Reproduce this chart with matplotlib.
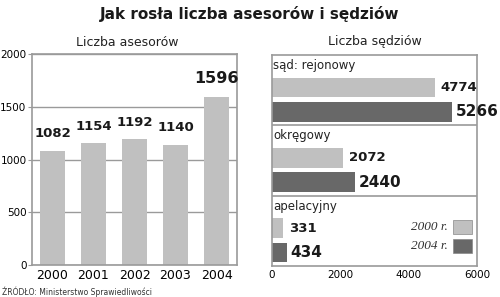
import matplotlib.pyplot as plt

# Liczba asesorów
years = ["2000", "2001", "2002", "2003", "2004"]
asesorzy = [1082, 1154, 1192, 1140, 1596]

# Liczba sędziów
sady = ["sąd: rejonowy", "okręgowy", "apelacyjny"]
sedziowie_2000 = [4774, 2072, 331]
sedziowie_2004 = [5266, 2440, 434]
legend_labels = ["2000 r.", "2004 r."]

light = "#c0c0c0"
dark = "#686868"
frame = "#9a9a9a"
W, H = 500, 297

fig = plt.figure(figsize=(W / 100, H / 100), dpi=100)
fig.patch.set_facecolor("white")

fig.text(0.5, 1 - 14 / H, "Jak rosła liczba asesorów i sędziów", ha="center", va="center",
         fontsize=11, fontweight="bold", color="#1a1a1a")
fig.text(127 / W, 1 - 42 / H, "Liczba asesorów", ha="center", va="center", fontsize=9, color="#222222")
fig.text(375 / W, 1 - 42 / H, "Liczba sędziów", ha="center", va="center", fontsize=9, color="#222222")
fig.text(2 / W, 1 - 292 / H, "ŹRÓDŁO: Ministerstwo Sprawiedliwości", ha="left", va="center",
         fontsize=5.5, color="#333333")

# left panel
ax1 = fig.add_axes([32 / W, 32 / H, 205 / W, 211 / H])
x = range(len(years))
ax1.bar(x, asesorzy, width=0.6, color=light, zorder=2)
ax1.set_xlim(-0.5, 4.5)
ax1.set_ylim(0, 2000)
ax1.set_yticks([0, 500, 1000, 1500, 2000])
ax1.set_xticks(list(x))
ax1.set_xticklabels(years, fontsize=9)
ax1.tick_params(axis="y", labelsize=7.5, length=3, color=frame, pad=1)
ax1.tick_params(axis="x", length=0, pad=3)
ax1.grid(axis="y", color=frame, linewidth=1, zorder=1)
for s in ax1.spines.values():
    s.set_color(frame)
    s.set_linewidth(1.2)
for i, v in enumerate(asesorzy):
    big = i == len(asesorzy) - 1
    ax1.text(i, v + 100, str(v), ha="center", va="bottom", fontweight="bold",
             fontsize=11.5 if big else 9.5, color="#1a1a1a")

# right panel
ax2 = fig.add_axes([272 / W, 31 / H, 205 / W, 211 / H])
ax2.set_xlim(0, 6000)
ax2.set_ylim(3, 0)
for i, name in enumerate(sady):
    ax2.barh(i + 0.46, sedziowie_2000[i], height=0.28, color=light)
    ax2.barh(i + 0.81, sedziowie_2004[i], height=0.28, color=dark)
    ax2.text(40, i + 0.15, name, ha="left", va="center", fontsize=8.5, color="#222222")
    ax2.text(sedziowie_2000[i] + 170, i + 0.46, str(sedziowie_2000[i]), ha="left", va="center",
             fontweight="bold", fontsize=9.5, color="#1a1a1a")
    ax2.text(sedziowie_2004[i] + 100, i + 0.81, str(sedziowie_2004[i]), ha="left", va="center",
             fontweight="bold", fontsize=11, color="#1a1a1a")
    if i > 0:
        ax2.axhline(i, color=frame, linewidth=1.2)
ax2.set_xticks([0, 2000, 4000, 6000])
ax2.set_yticks([])
ax2.tick_params(axis="x", labelsize=7.5, length=0, pad=3)
for s in ax2.spines.values():
    s.set_color(frame)
    s.set_linewidth(1.2)

# legend
for j, (lab, col) in enumerate(zip(legend_labels, [light, dark])):
    yy = 2.44 + j * 0.28
    ax2.text(5150, yy, lab, ha="right", va="center", fontsize=9.5, family="Liberation Serif",
             style="italic", color="#333333")
    ax2.barh(yy, 550, left=5300, height=0.2, color=col, edgecolor="#888888", linewidth=0.5)

fig.savefig("out.png", dpi=100)
